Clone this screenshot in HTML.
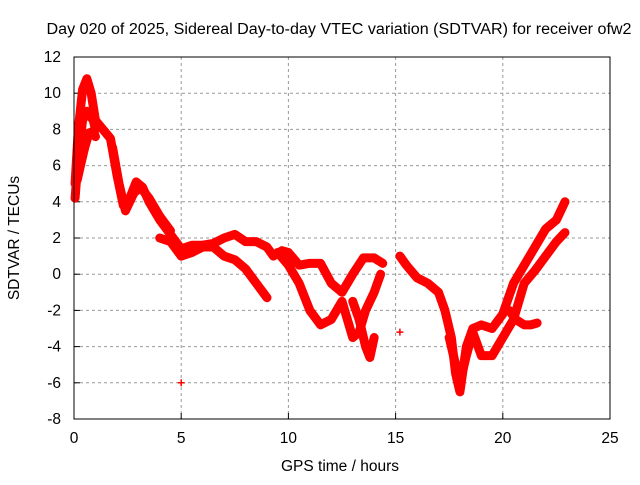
<!DOCTYPE html>
<html><head><meta charset="utf-8"><style>
body{margin:0;background:#fff}
svg{font-family:"Liberation Sans",sans-serif;font-size:15.5px}
</style></head><body>
<svg id="chart" width="640" height="480" viewBox="0 0 640 480" xmlns="http://www.w3.org/2000/svg">
<text x="339" y="34" text-anchor="middle" textLength="585" lengthAdjust="spacingAndGlyphs">Day 020 of 2025, Sidereal Day-to-day VTEC variation (SDTVAR) for receiver ofw2</text>
<g id="grid"></g>
<g id="ticks"></g>
<g id="series"></g>
<rect x="74" y="57" width="536" height="362" fill="none" stroke="#000" stroke-width="1"/>
<text x="340" y="471" text-anchor="middle">GPS time / hours</text>
<text transform="translate(19,238) rotate(-90)" text-anchor="middle">SDTVAR / TECUs</text>
</svg>
<script>
const xTicks=[0,5,10,15,20,25];
const yTicks=[12,10,8,6,4,2,0,-2,-4,-6,-8];
const traceA_t=[0.05,0.2,0.4,0.6,0.8,1.0,1.7,2.0,2.3,2.6,2.9,3.2,3.5,4.0,4.5,5.0,5.5,6.0,6.5,7.0,7.5,8.0,8.5,9.0,9.3,9.7,10.0,10.5,11.0,11.5,12.0,12.5,13.0,13.5,14.0,14.4];
const traceA_v=[5.0,8.0,10.2,10.8,10.0,8.5,7.5,5.5,3.8,4.2,5.1,4.8,4.0,3.0,2.2,1.4,1.6,1.6,1.7,2.0,2.2,1.8,1.8,1.5,1.0,1.3,1.2,0.5,0.6,0.6,-0.5,-1.0,0.0,0.9,0.9,0.6];
const traceA2_t=[1.8,2.1,2.4,2.8,3.1,3.5,4.0,4.5];
const traceA2_v=[7.0,5.0,3.5,4.5,4.8,4.2,3.2,2.4];
const traceB_t=[0.05,0.2,0.4,0.6,0.9,1.0];
const traceB_v=[4.2,6.5,8.5,9.0,8.5,8.0];
const traceC_t=[0.15,0.3,0.5,0.7,0.9,1.0];
const traceC_v=[5.2,6.0,7.0,7.8,7.9,7.6];
const traceD_t=[4.0,4.5,5.0,5.5,6.0,6.5,7.0,7.5,8.0,8.5,9.0];
const traceD_v=[2.0,1.8,1.0,1.2,1.5,1.5,1.0,0.8,0.3,-0.5,-1.3];
const traceE_t=[9.5,10.0,10.5,11.0,11.5,12.0,12.5,13.0,13.3,13.6,14.0,14.3];
const traceE_v=[1.2,0.5,-0.5,-2.0,-2.8,-2.5,-1.5,-3.5,-3.2,-2.0,-1.0,0.0];
const traceF_t=[13.0,13.3,13.6,13.8,14.0];
const traceF_v=[-1.5,-2.5,-4.0,-4.6,-3.5];
const traceG_t=[15.2,15.5,16.0,16.5,17.0,17.3,17.6,17.8,18.0,18.3,18.6,19.0,19.5,20.0,20.5,21.0,21.5,22.0,22.5,22.9];
const traceG_v=[1.0,0.5,-0.2,-0.5,-1.0,-2.0,-3.5,-5.5,-6.5,-4.0,-3.0,-2.8,-3.0,-2.2,-0.5,0.5,1.5,2.5,3.0,4.0];
const traceH_t=[17.5,17.8,18.0,18.3,18.6,19.0,19.5,20.0,20.5,21.0,21.5,22.0,22.5,22.9];
const traceH_v=[-3.5,-5.0,-6.0,-4.5,-3.2,-4.5,-4.5,-3.5,-2.5,-0.5,0.2,1.0,1.8,2.3];
const traceI_t=[20.3,20.6,21.0,21.3,21.6];
const traceI_v=[-2.0,-2.5,-2.8,-2.8,-2.7];
const outlier_t=[5.0,15.2];
const outlier_v=[-6.0,-3.2];
const traces=[[traceA_t,traceA_v],[traceA2_t,traceA2_v],[traceB_t,traceB_v],[traceC_t,traceC_v],[traceD_t,traceD_v],[traceE_t,traceE_v],[traceF_t,traceF_v],[traceG_t,traceG_v],[traceH_t,traceH_v],[traceI_t,traceI_v]];
const NS="http://www.w3.org/2000/svg";
const X=t=>74+t*536/25, Y=v=>57+(12-v)*362/20;
const grid=document.getElementById('grid'),ticks=document.getElementById('ticks'),ser=document.getElementById('series');
function mk(tag,attrs,parent){const e=document.createElementNS(NS,tag);for(const k in attrs)e.setAttribute(k,attrs[k]);parent.appendChild(e);return e;}
xTicks.forEach(t=>{
 if(t>0&&t<25){const g=mk('line',{x1:X(t),x2:X(t),y1:57,y2:419,stroke:'#999','stroke-dasharray':'3,3'},grid);
 
 }
 const l=mk('line',{x1:X(t),x2:X(t),y1:419,y2:413,stroke:'#000'},ticks);
 
 
 const tx=mk('text',{x:X(t),y:443,'text-anchor':'middle'},ticks);tx.textContent=t;
 
 
});
yTicks.forEach(v=>{
 if(v>-8&&v<12){const g=mk('line',{x1:74,x2:610,y1:Y(v),y2:Y(v),stroke:'#999','stroke-dasharray':'3,3'},grid);
 
 }
 const l=mk('line',{x1:74,x2:80,y1:Y(v),y2:Y(v),stroke:'#000'},ticks);
 
 
 const tx=mk('text',{x:61,y:Y(v)+5,'text-anchor':'end'},ticks);tx.textContent=v;
 
 
});
traces.forEach(([ts,vs])=>{
 const pts=ts.map((t,i)=>X(t)+','+Y(vs[i])).join(' ');
 const p=mk('polyline',{points:pts,fill:'none',stroke:'#f00','stroke-width':9,'stroke-linejoin':'round','stroke-linecap':'round'},ser);
 
 
});
outlier_t.forEach((t,i)=>{
 const p=mk('path',{d:`M${X(t)-3.5},${Y(outlier_v[i])}h7M${X(t)},${Y(outlier_v[i])-3.5}v7`,stroke:'#f00','stroke-width':1.5},ser);
 
 
});
</script>
</body></html>
